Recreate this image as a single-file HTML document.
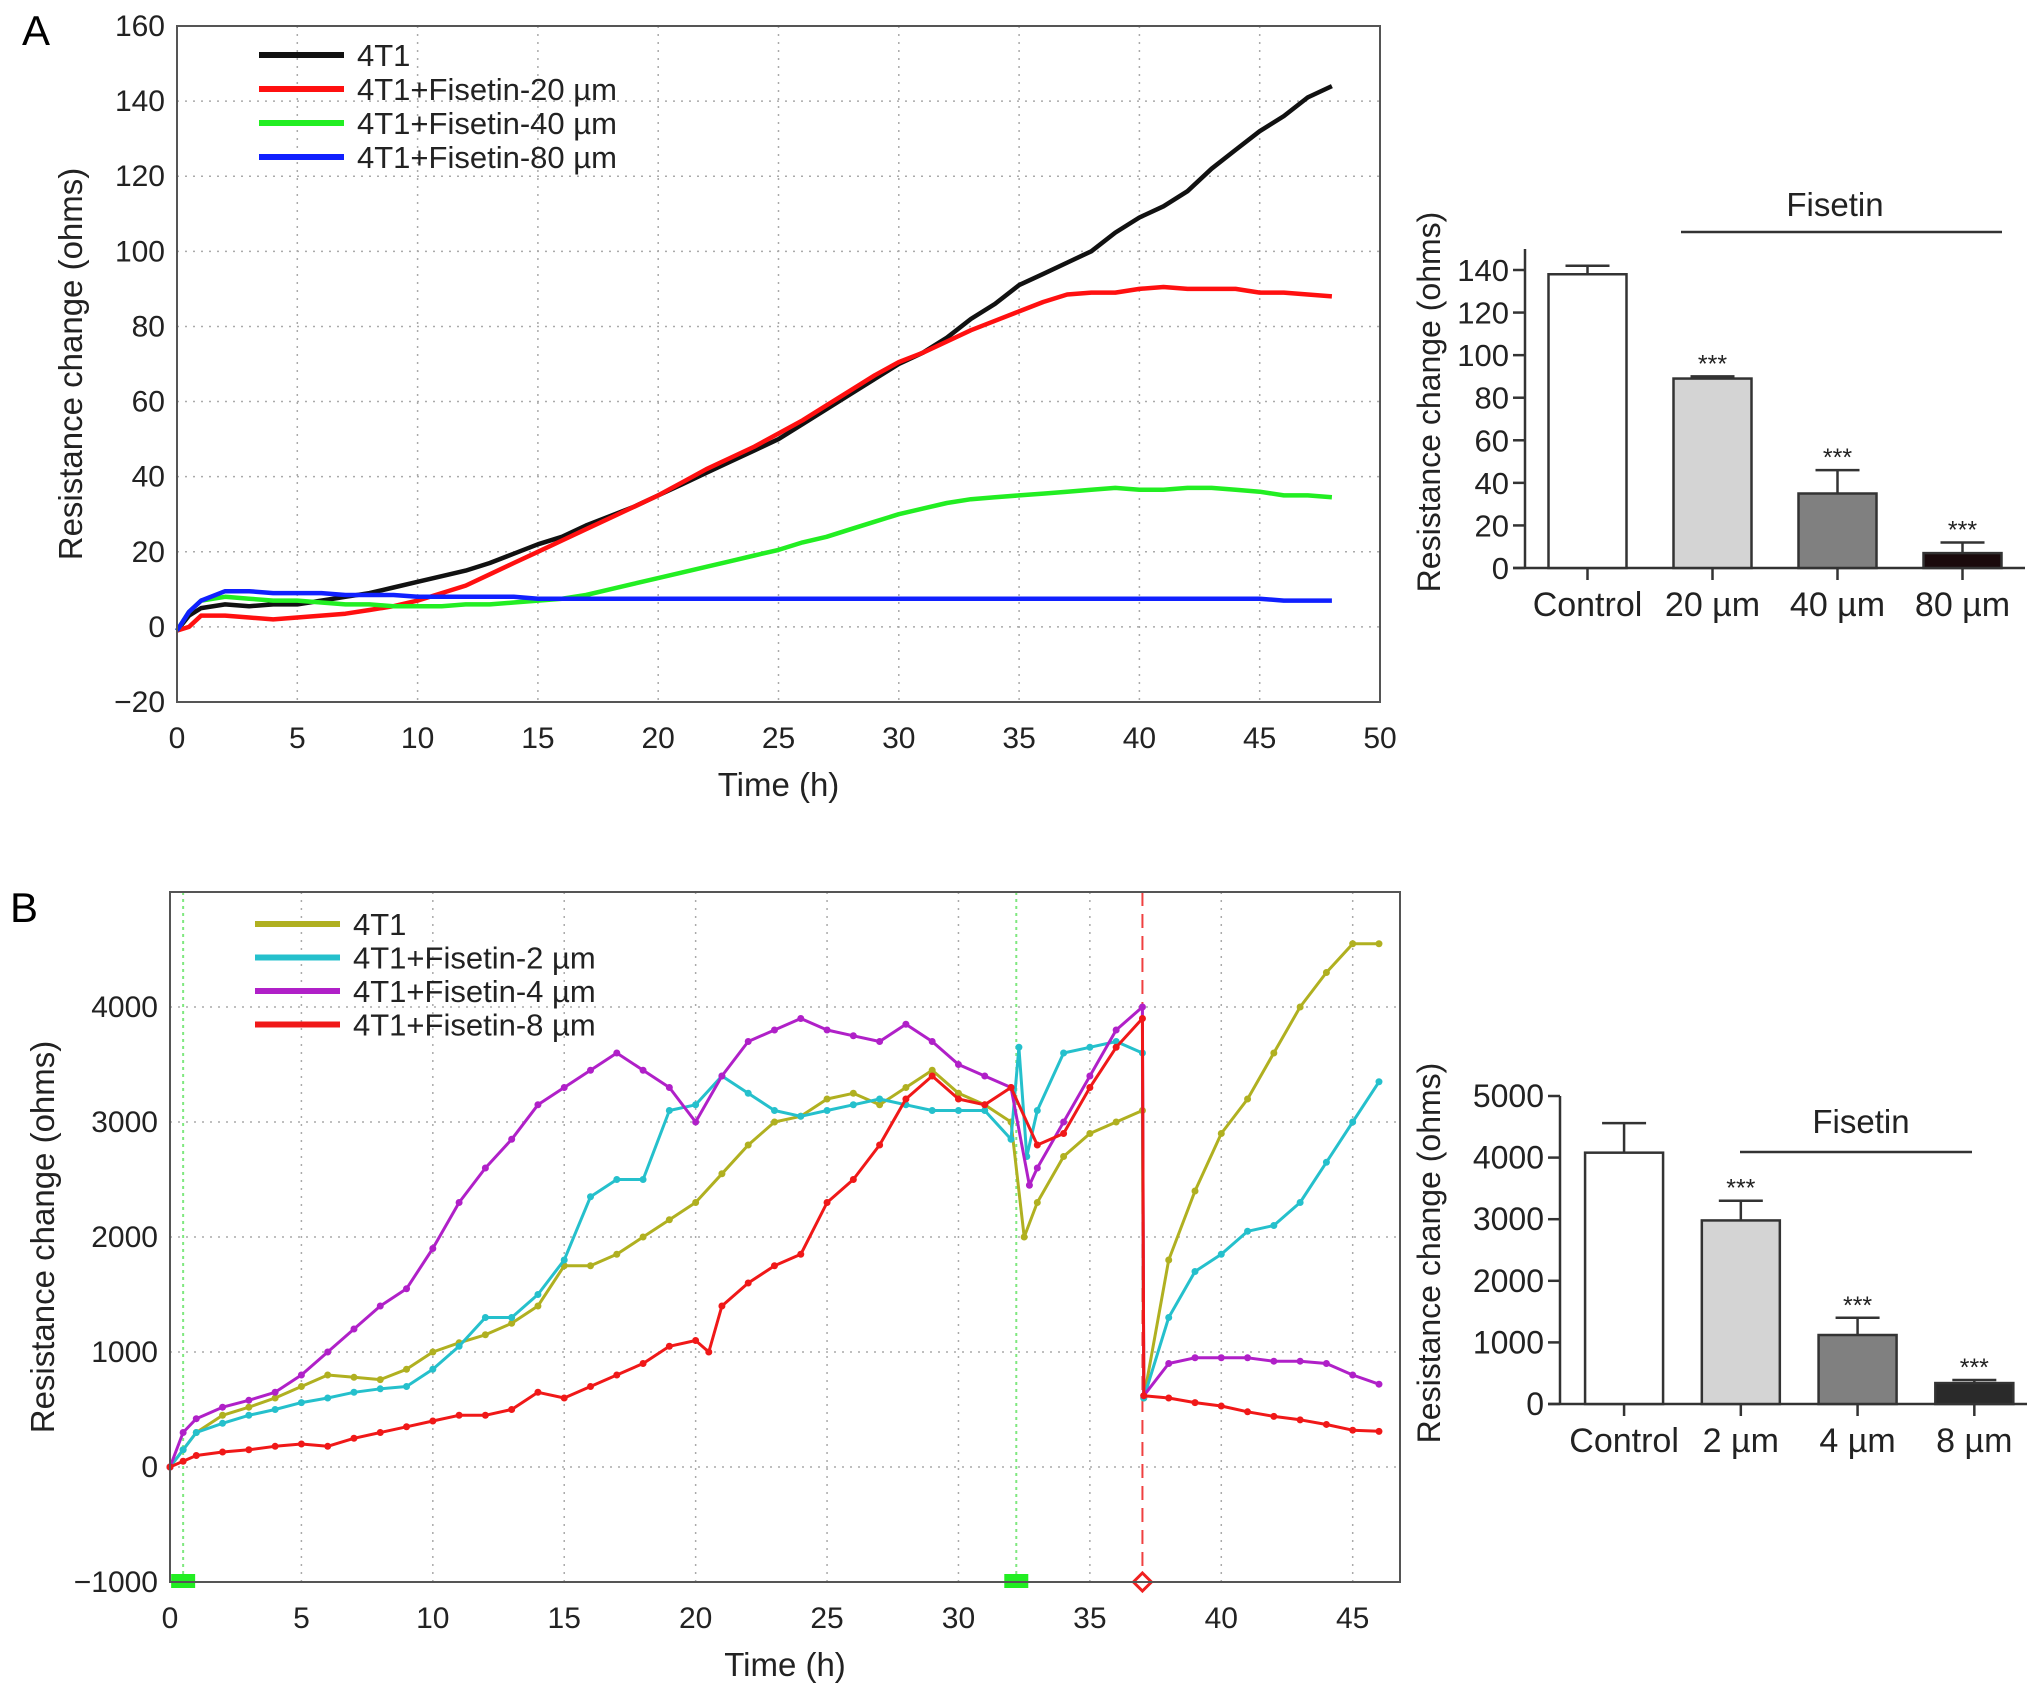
<!DOCTYPE html>
<html><head><meta charset="utf-8">
<style>
html,body{margin:0;padding:0;background:#fff;}
svg{display:block;font-family:"Liberation Sans",Arial,sans-serif;}
</style></head>
<body>
<svg id="fig" width="2032" height="1700" viewBox="0 0 2032 1700" xmlns="http://www.w3.org/2000/svg">
<text x="22" y="45" font-size="42">A</text>
<text x="10" y="922" font-size="42">B</text>
<g id="gA"></g>
<g id="gAb"></g>
<g id="gB"></g>
<g id="gBb"></g>
</svg>
<script>
// ---------- Panel A line data ----------
const aTimes = [0,0.5,1,2,3,4,5,6,7,8,9,10,11,12,13,14,15,16,17,18,19,20,21,22,23,24,25,26,27,28,29,30,31,32,33,34,35,36,37,38,39,40,41,42,43,44,45,46,47,48];
const a4T1 = [-1,3,5,6,5.5,6,6,7,8,9,10.5,12,13.5,15,17,19.5,22,24,27,29.5,32,35,38,41,44,47,50,54,58,62,66,70,73,77,82,86,91,94,97,100,105,109,112,116,122,127,132,136,141,144];
const a20 = [-1,0,3,3,2.5,2,2.5,3,3.5,4.5,5.5,7,9,11,14,17,20,23,26,29,32,35,38.5,42,45,48,51.5,55,59,63,67,70.5,73,76,79,81.5,84,86.5,88.5,89,89,90,90.5,90,90,90,89,89,88.5,88];
const a40 = [-1,4,7,8,7.5,7,7,6.5,6,6,5.5,5.5,5.5,6,6,6.5,7,7.5,8.5,10,11.5,13,14.5,16,17.5,19,20.5,22.5,24,26,28,30,31.5,33,34,34.5,35,35.5,36,36.5,37,36.5,36.5,37,37,36.5,36,35,35,34.5];
const a80 = [-1,4,7,9.5,9.5,9,9,9,8.5,8.5,8.5,8,8,8,8,8,7.5,7.5,7.5,7.5,7.5,7.5,7.5,7.5,7.5,7.5,7.5,7.5,7.5,7.5,7.5,7.5,7.5,7.5,7.5,7.5,7.5,7.5,7.5,7.5,7.5,7.5,7.5,7.5,7.5,7.5,7.5,7,7,7];
const aXTicks = [0,5,10,15,20,25,30,35,40,45,50];
const aYTicks = [-20,0,20,40,60,80,100,120,140,160];
const aLegend = ["4T1","4T1+Fisetin-20 µm","4T1+Fisetin-40 µm","4T1+Fisetin-80 µm"];

// ---------- Panel A bar data ----------
const abCats = ["Control","20 µm","40 µm","80 µm"];
const abVals = [138,89,35,7];
const abErr = [4,1,11,5];
const abTicks = [0,20,40,60,80,100,120,140];

// ---------- Panel B line data ----------
const bT1 = [0,0.5,1,2,3,4,5,6,7,8,9,10,11,12,13,14,15,16,17,18,19,20,21,22,23,24,25,26,27,28,29,30,31,32,32.5,33,34,35,36,37,37.05,38,39,40,41,42,43,44,45,46];
const b4T1 = [0,150,300,450,520,600,700,800,780,760,850,1000,1080,1150,1250,1400,1750,1750,1850,2000,2150,2300,2550,2800,3000,3050,3200,3250,3150,3300,3450,3250,3150,3000,2000,2300,2700,2900,3000,3100,600,1800,2400,2900,3200,3600,4000,4300,4550,4550];
const bT2 = [0,0.5,1,2,3,4,5,6,7,8,9,10,11,12,13,14,15,16,17,18,19,20,21,22,23,24,25,26,27,28,29,30,31,32,32.3,32.6,33,34,35,36,37,37.05,38,39,40,41,42,43,44,45,46];
const b2 = [0,150,300,380,450,500,560,600,650,680,700,850,1050,1300,1300,1500,1800,2350,2500,2500,3100,3150,3400,3250,3100,3050,3100,3150,3200,3150,3100,3100,3100,2850,3650,2700,3100,3600,3650,3700,3600,600,1300,1700,1850,2050,2100,2300,2650,3000,3350];
const bT4 = [0,0.5,1,2,3,4,5,6,7,8,9,10,11,12,13,14,15,16,17,18,19,20,21,22,23,24,25,26,27,28,29,30,31,32,32.7,33,34,35,36,37,37.05,38,39,40,41,42,43,44,45,46];
const b4 = [0,300,420,520,580,650,800,1000,1200,1400,1550,1900,2300,2600,2850,3150,3300,3450,3600,3450,3300,3000,3400,3700,3800,3900,3800,3750,3700,3850,3700,3500,3400,3300,2450,2600,3000,3400,3800,4000,620,900,950,950,950,920,920,900,800,720];
const bT8 = [0,0.5,1,2,3,4,5,6,7,8,9,10,11,12,13,14,15,16,17,18,19,20,20.5,21,22,23,24,25,26,27,28,29,30,31,32,33,34,35,36,37,37.05,38,39,40,41,42,43,44,45,46];
const b8 = [0,50,100,130,150,180,200,180,250,300,350,400,450,450,500,650,600,700,800,900,1050,1100,1000,1400,1600,1750,1850,2300,2500,2800,3200,3400,3200,3150,3300,2800,2900,3300,3650,3900,620,600,560,530,480,440,410,370,320,310];
const bXTicks = [0,5,10,15,20,25,30,35,40,45];
const bYTicks = [-1000,0,1000,2000,3000,4000];
const bLegend = ["4T1","4T1+Fisetin-2 µm","4T1+Fisetin-4 µm","4T1+Fisetin-8 µm"];
const bEvents = [0.5,32.2];
const bDrugEvent = [37];

// ---------- Panel B bar data ----------
const bbCats = ["Control","2 µm","4 µm","8 µm"];
const bbVals = [4080,2980,1120,340];
const bbErr = [480,320,280,50];
const bbTicks = [0,1000,2000,3000,4000,5000];

const NS="http://www.w3.org/2000/svg";
function mk(parent,tag,attrs,text){const e=document.createElementNS(NS,tag);for(const k in attrs)e.setAttribute(k,attrs[k]);if(text!==undefined)e.textContent=text;parent.appendChild(e);return e;}

function linePanel(g,cfg){
  const sx=v=>cfg.L+(v-cfg.x0)/(cfg.x1-cfg.x0)*(cfg.R-cfg.L);
  const sy=v=>cfg.B-(v-cfg.y0)/(cfg.y1-cfg.y0)*(cfg.B-cfg.T);
  cfg.xt.forEach(t=>{const x=sx(t);
    const gl=mk(g,'line',{x1:x,x2:x,y1:cfg.T,y2:cfg.B,stroke:'#aaa','stroke-width':1.5,'stroke-dasharray':'2,6'});
    
    
    const tl=mk(g,'text',{x:x,y:cfg.B+46,'font-size':30,'text-anchor':'middle',fill:'#222'},String(t));
    
    
  });
  cfg.yt.forEach(t=>{const y=sy(t);
    const gl=mk(g,'line',{x1:cfg.L,x2:cfg.R,y1:y,y2:y,stroke:'#aaa','stroke-width':1.5,'stroke-dasharray':'2,6'});
    
    
    const tl=mk(g,'text',{x:cfg.L-12,y:y+10,'font-size':30,'text-anchor':'end',fill:'#222'},(t<0?'\u2212':'')+Math.abs(t));
    
    
  });
  if(cfg.extra)cfg.extra(g,sx,sy);
  cfg.series.forEach((s,i)=>{
    const pts=s.t.map((t,j)=>sx(t).toFixed(1)+','+sy(s.v[j]).toFixed(1)).join(' ');
    const pl=mk(g,'polyline',{points:pts,fill:'none',stroke:s.c,'stroke-width':cfg.sw,'stroke-linejoin':'round'});
    
    
    if(cfg.dots){s.t.forEach((t,j)=>{const d=mk(g,'circle',{cx:sx(t),cy:sy(s.v[j]),r:3.5,fill:s.c});
      
      });}
  });
  const fr=mk(g,'rect',{x:cfg.L,y:cfg.T,width:cfg.R-cfg.L,height:cfg.B-cfg.T,fill:'none',stroke:'#555','stroke-width':2});
  
  
  cfg.legend.forEach((n,i)=>{const y=cfg.legY+i*cfg.legDy;
    const ll=mk(g,'line',{x1:cfg.legX,x2:cfg.legX+85,y1:y,y2:y,stroke:cfg.series[i].c,'stroke-width':6});
    
    
    const lt=mk(g,'text',{x:cfg.legX+98,y:y+11,'font-size':31,fill:'#222'},n);
    
    
  });
  const xt=mk(g,'text',{x:(cfg.L+cfg.R)/2,y:cfg.B+94,'font-size':33,'text-anchor':'middle',fill:'#222'},'Time (h)');
  
  
  const yt=mk(g,'text',{x:0,y:0,'font-size':33,'text-anchor':'middle',fill:'#222',transform:`translate(${cfg.ytx},${(cfg.T+cfg.B)/2}) rotate(-90)`},'Resistance change (ohms)');
  
  
}

function barPanel(g,cfg){
  const sy=v=>cfg.B-(v/cfg.ymax)*(cfg.B-cfg.Ttop);
  const ax=mk(g,'line',{x1:cfg.L,x2:cfg.L,y1:cfg.axTop,y2:cfg.B,stroke:'#333','stroke-width':2.5});
  
  
  const bx=mk(g,'line',{x1:cfg.L-12,x2:cfg.R,y1:cfg.B,y2:cfg.B,stroke:'#333','stroke-width':2.5});
  
  
  cfg.ticks.forEach(t=>{const y=sy(t);
    mk(g,'line',{x1:cfg.L-12,x2:cfg.L,y1:y,y2:y,stroke:'#333','stroke-width':2.5});
    const tl=mk(g,'text',{x:cfg.L-16,y:y+11,'font-size':cfg.tfs,'text-anchor':'end',fill:'#222'},String(t));
    
    
  });
  const n=cfg.cats.length, slot=(cfg.R-cfg.L)/n;
  cfg.cats.forEach((c,i)=>{
    const cx=cfg.L+slot*(i+0.5)+cfg.off, w=cfg.bw;
    const y=sy(cfg.vals[i]), ye=sy(cfg.vals[i]+cfg.err[i]);
    const el=mk(g,'line',{x1:cx,x2:cx,y1:ye,y2:y,stroke:'#333','stroke-width':2.5});
    
    
    mk(g,'line',{x1:cx-22,x2:cx+22,y1:ye,y2:ye,stroke:'#333','stroke-width':2.5});
    const r=mk(g,'rect',{x:cx-w/2,y:y,width:w,height:cfg.B-y,fill:cfg.fills[i],stroke:'#333','stroke-width':2.5});
    
    
    mk(g,'line',{x1:cx,x2:cx,y1:cfg.B,y2:cfg.B+12,stroke:'#333','stroke-width':2.5});
    const cl=mk(g,'text',{x:cx,y:cfg.catY,'font-size':34,'text-anchor':'middle',fill:'#222'},c);
    
    
    if(i>0){const s=mk(g,'text',{x:cx,y:ye-4,'font-size':25,'text-anchor':'middle',fill:'#222'},'***');
      
      }
  });
  const fl=mk(g,'line',{x1:cfg.fx1,x2:cfg.fx2,y1:cfg.fy,y2:cfg.fy,stroke:'#333','stroke-width':2.5});
  
  
  const ft=mk(g,'text',{x:cfg.ftx,y:cfg.fty,'font-size':33,'text-anchor':'middle',fill:'#222'},'Fisetin');
  
  
  const yt=mk(g,'text',{x:0,y:0,'font-size':32,'text-anchor':'middle',fill:'#222',transform:`translate(${cfg.ytx},${cfg.yty}) rotate(-90)`},'Resistance change (ohms)');
  
  
}

linePanel(document.getElementById('gA'),{L:177,R:1380,T:26,B:702,x0:0,x1:50,y0:-20,y1:160,xt:aXTicks,yt:aYTicks,sw:4.5,dots:false,
  series:[{t:aTimes,v:a4T1,c:'#111'},{t:aTimes,v:a20,c:'#ff1010'},{t:aTimes,v:a40,c:'#22ee22'},{t:aTimes,v:a80,c:'#1020ff'}],
  legend:aLegend,legX:259,legY:55,legDy:34,ytx:82});

linePanel(document.getElementById('gB'),{L:170,R:1400,T:892,B:1582,x0:0,x1:46.8,y0:-1000,y1:5000,xt:bXTicks,yt:bYTicks,sw:3,dots:true,
  series:[{t:bT1,v:b4T1,c:'#b0b020'},{t:bT2,v:b2,c:'#25c0cc'},{t:bT4,v:b4,c:'#b020c8'},{t:bT8,v:b8,c:'#f01818'}],
  legend:bLegend,legX:255,legY:924,legDy:33.5,ytx:54,
  extra:(g,sx,sy)=>{
    bEvents.forEach(e=>{const x=sx(e);
      const l=mk(g,'line',{x1:x,x2:x,y1:892,y2:1582,stroke:'#7fe87f','stroke-width':2,'stroke-dasharray':'3,4'});
      
      
      const m=mk(g,'rect',{x:x-12,y:sy(-1000)-8,width:24,height:14,fill:'#22ee22'});
      
      });
    bDrugEvent.forEach(e=>{const x=sx(e);
      const l=mk(g,'line',{x1:x,x2:x,y1:892,y2:1582,stroke:'#f04040','stroke-width':2,'stroke-dasharray':'14,8'});
      
      
      const y=sy(-1000);
      const d=mk(g,'polygon',{points:`${x},${y-9} ${x+9},${y} ${x},${y+9} ${x-9},${y}`,fill:'#fff',stroke:'#f02020','stroke-width':3});
      
      });
  }});

barPanel(document.getElementById('gAb'),{L:1525,R:2025,B:568,Ttop:270,ymax:140,axTop:249,ticks:abTicks,tfs:31,cats:abCats,vals:abVals,err:abErr,
  bw:78,off:0,fills:['#fff','#d4d4d4','#808080','#1a0a0c'],catY:616,fx1:1681,fx2:2002,fy:232,ftx:1835,fty:216,ytx:1440,yty:402});
barPanel(document.getElementById('gBb'),{L:1560,R:2027,B:1404,Ttop:1096,ymax:5000,axTop:1096,ticks:bbTicks,tfs:32,cats:bbCats,vals:bbVals,err:bbErr,
  bw:78,off:5.7,fills:['#fff','#d4d4d4','#808080','#2a2a2a'],catY:1452,fx1:1740,fx2:1972,fy:1152,ftx:1861,fty:1133,ytx:1440,yty:1253});
</script>
</body></html>
